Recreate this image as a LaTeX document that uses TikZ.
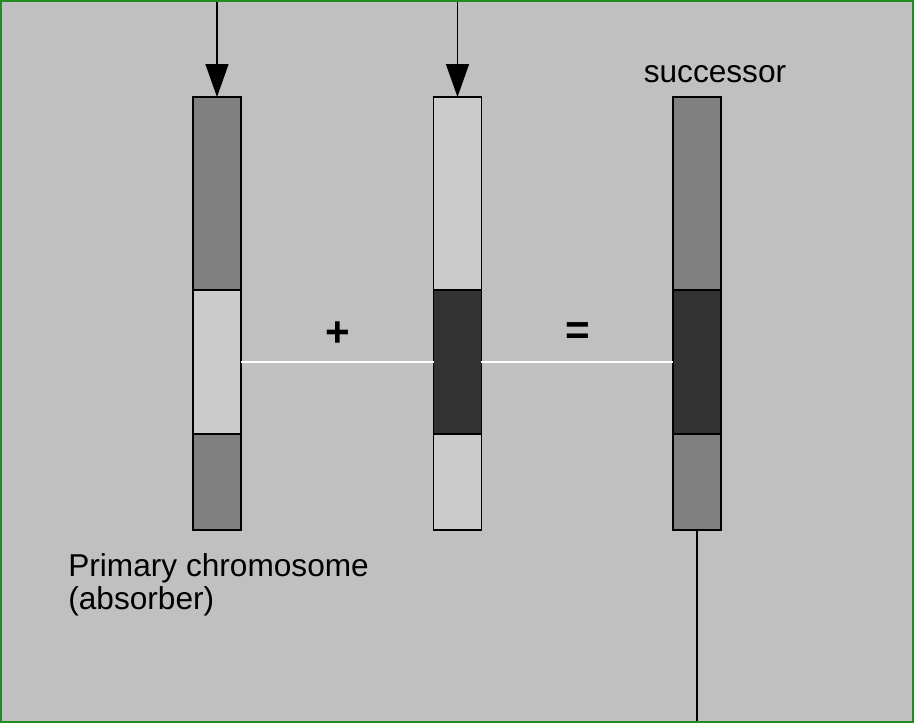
\documentclass[tikz,border=0pt]{standalone}
\usepackage{fontspec}
\setmainfont{Liberation Sans}
\usetikzlibrary{arrows.meta}
\definecolor{bggray}{HTML}{C0C0C0}
\definecolor{framegreen}{RGB}{34,139,34}
\definecolor{segmid}{HTML}{808080}
\definecolor{seglight}{HTML}{CCCCCC}
\definecolor{segdark}{HTML}{333333}
\begin{document}
\begin{tikzpicture}[
  x=0.02cm, y=-0.02cm,
  seg/.style={draw, line width=0.8pt, minimum width=0.96cm, inner sep=0pt, outer sep=0pt},
  label/.style={font=\fontsize{18}{18.7}\selectfont, inner sep=0pt},
  sign/.style={font=\bfseries\fontsize{24}{24}\selectfont, inner sep=0pt},
  arr/.style={-{Triangle[width=0.46cm,length=0.66cm]}, line width=0.8pt},
  link/.style={white, line width=0.8pt}
]
\fill[bggray] (0,0) rectangle (914,723);
\useasboundingbox (0,0) rectangle (914,723);

% primary chromosome
\node[seg, fill=segmid, minimum height=3.86cm] (lt) at (217,193.5) {};
\node[seg, fill=seglight, minimum height=2.88cm] (lm) at (217,362) {};
\node[seg, fill=segmid, minimum height=1.92cm] (lb) at (217,482) {};

% second chromosome
\node[seg, fill=seglight, minimum height=3.86cm] (mt) at (457.5,193.5) {};
\node[seg, fill=segdark, minimum height=2.88cm] (mm) at (457.5,362) {};
\node[seg, fill=seglight, minimum height=1.92cm] (mb) at (457.5,482) {};

% successor
\node[seg, fill=segmid, minimum height=3.86cm] (rt) at (697,193.5) {};
\node[seg, fill=segdark, minimum height=2.88cm] (rm) at (697,362) {};
\node[seg, fill=segmid, minimum height=1.92cm] (rb) at (697,482) {};

\node[sign] (plus) at (338,334) {+};
\node[sign] (equals) at (577.5,334) {=};
\node[label] (succ) at (715,74) {successor};
\node[label, anchor=north west, align=left] (prim) at (68,553) {Primary chromosome\\(absorber)};

\coordinate (inL) at (217,0);
\coordinate (inM) at (457.5,0);
\coordinate (out) at (697,723);

\draw[arr] (inL) -- (lt.north);
\draw[arr] (inM) -- (mt.north);
\draw[link] (lm.east) -- (mm.west);
\draw[link] (mm.east) -- (rm.west);
\draw[line width=0.8pt] (rb.south) -- (out);

\draw[framegreen, line width=1.2pt] (0.6,0.6) rectangle (913.4,722.4);
\end{tikzpicture}
\end{document}
